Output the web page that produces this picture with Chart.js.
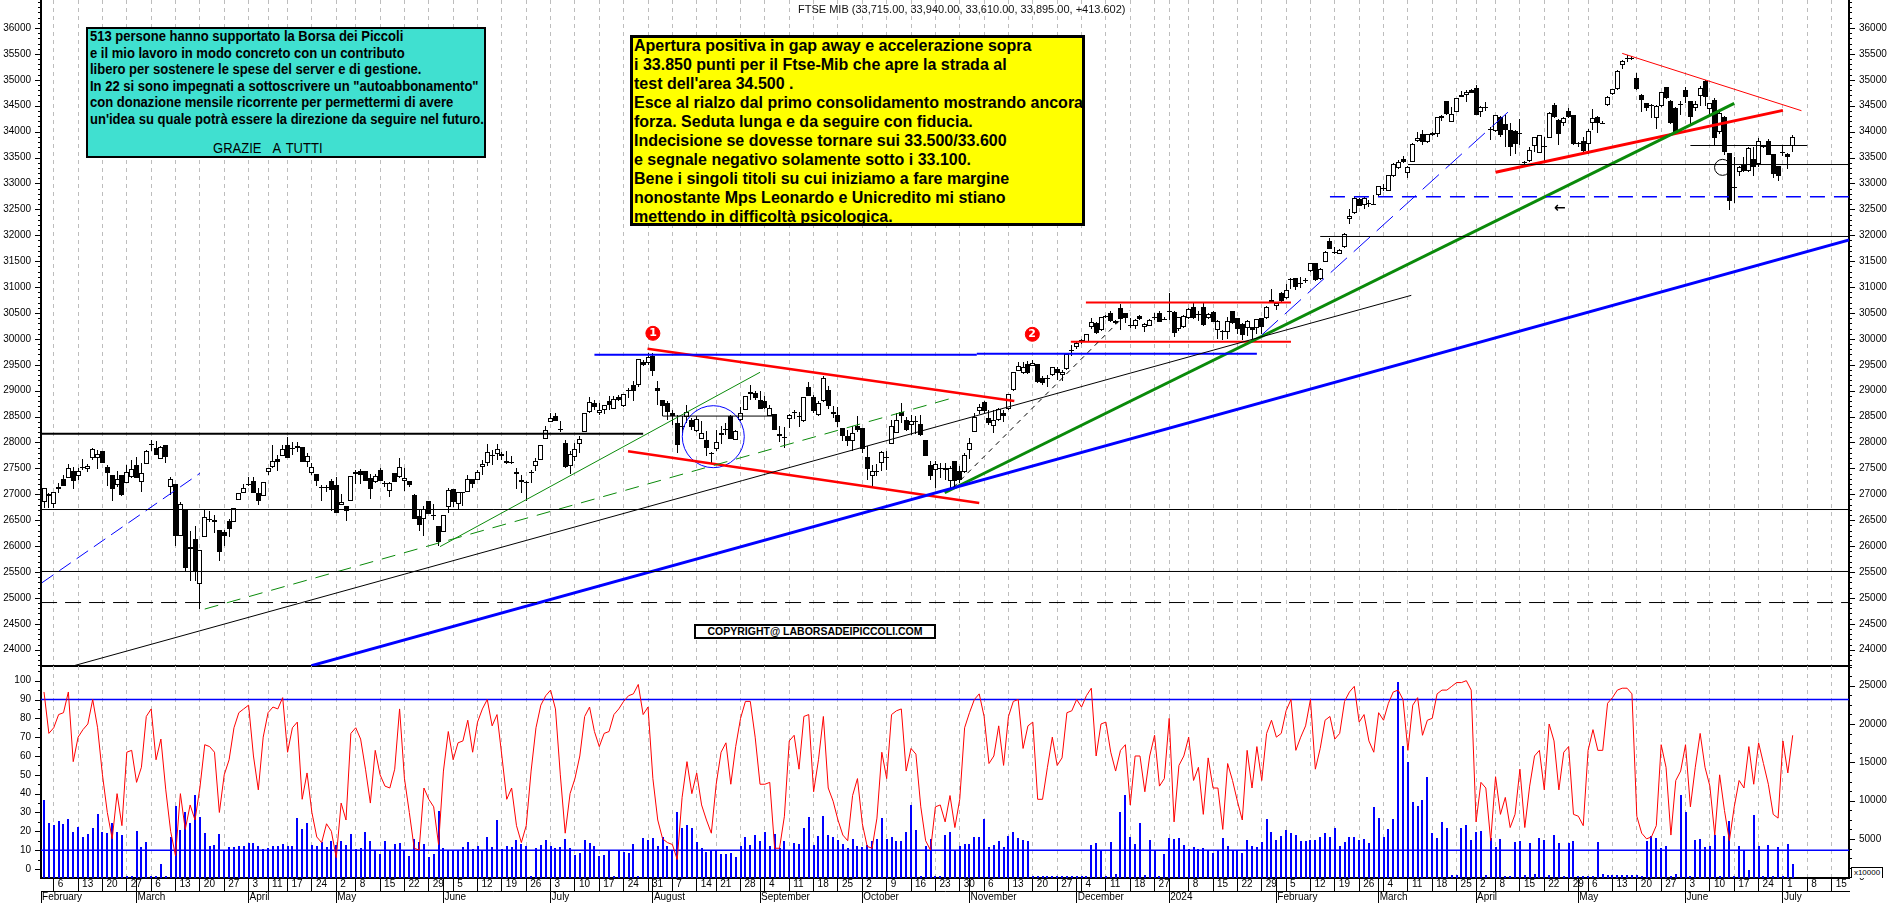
<!DOCTYPE html>
<html>
<head>
<meta charset="utf-8">
<title>FTSE MIB</title>
<script src="https://cdn.jsdelivr.net/npm/chart.js@4/dist/chart.umd.min.js"></script>
<style>
  html, body { margin: 0; padding: 0; background: #fff; overflow: hidden; }
  body { width: 1890px; height: 903px; position: relative; font-family: "Liberation Sans", Arial, sans-serif; color: #000; }
  canvas { position: absolute; left: 0; }
  #priceChart { top: 0; }
  #lowerChart { top: 666px; }
  .note { position: absolute; box-sizing: border-box; border: solid #000; white-space: nowrap; overflow: hidden; }
  #title { position: absolute; left: 798px; top: 2px; font-size: 11px; line-height: 14px; white-space: nowrap; color: #111; }
  #thanks { left: 86px; top: 27px; width: 400px; height: 131px; border-width: 2px; background: #40e0d0; font: bold 14px/16.5px "Liberation Sans", sans-serif; padding: 0 0 0 2px; }
  #thanks div { position: relative; top: -1px; transform: scaleX(.93); transform-origin: left center; }
  #thanks .grazie { position: absolute; left: 125px; top: 111px; word-spacing: 2px; font-weight: normal; }
  #comment { left: 630px; top: 35px; width: 455px; height: 191px; border-width: 3px; background: #ff0; font: bold 16px/19px "Liberation Sans", Arial, sans-serif; padding: 0 0 0 1px; }
  #comment div { position: relative; top: -2px; }
  #copyright { left: 694px; top: 624px; width: 242px; height: 15px; border-width: 2px; background: #fff; font: bold 10.5px/11px "Liberation Sans", Arial, sans-serif; text-align: center; }
  .bullet { position: absolute; width: 14px; text-align: center; color: #fff; font: bold 11px/14px "DejaVu Sans", sans-serif; }
  #arrow { position: absolute; left: 1554px; top: 198px; font: bold 14px/18px "DejaVu Sans", sans-serif; }
  #scaleNote { position: absolute; left: 1851px; top: 867px; width: 32px; height: 11px; box-sizing: border-box; border: 1px solid #000; border-bottom: 0; font-size: 8px; line-height: 10px; text-align: center; background: #fff; }
</style>
</head>
<body>
<canvas id="priceChart" width="1890" height="667"></canvas>
<canvas id="lowerChart" width="1890" height="237"></canvas>

<div id="title">FTSE MIB (33,715.00, 33,940.00, 33,610.00, 33,895.00, +413.602)</div>
<div id="thanks" class="note">
  <div>513 persone hanno supportato la Borsa dei Piccoli</div>
  <div>e il mio lavoro in modo concreto con un contributo</div>
  <div>libero per sostenere le spese del server e di gestione.</div>
  <div>In 22 si sono impegnati a sottoscrivere un "autoabbonamento"</div>
  <div>con donazione mensile ricorrente per permettermi di avere</div>
  <div>un'idea su quale potrà essere la direzione da seguire nel futuro.</div>
  <div class="grazie">GRAZIE &nbsp;A TUTTI</div>
</div>
<div id="comment" class="note">
  <div>Apertura positiva in gap away e accelerazione sopra</div>
  <div>i 33.850 punti per il Ftse-Mib che apre la strada al</div>
  <div>test dell'area 34.500 .</div>
  <div>Esce al rialzo dal primo consolidamento mostrando ancora</div>
  <div>forza. Seduta lunga e da seguire con fiducia.</div>
  <div>Indecisione se dovesse tornare sui 33.500/33.600</div>
  <div>e segnale negativo solamente sotto i 33.100.</div>
  <div>Bene i singoli titoli su cui iniziamo a fare margine</div>
  <div>nonostante Mps Leonardo e Unicredito mi stiano</div>
  <div>mettendo in difficoltà psicologica.</div>
</div>
<div id="copyright" class="note">COPYRIGHT@ LABORSADEIPICCOLI.COM</div>
<div class="bullet" style="left:646px;top:326px">1</div>
<div class="bullet" style="left:1025px;top:327px">2</div>
<div id="arrow">←</div>
<div id="scaleNote">x10000</div>

<script>
// Daily candles: open, high, low, close, one row per session from 2 Feb 2023.
const ohlc = [
  [26857,27115,26730,27115],[27005,27020,26730,26965],[26806,27037,26730,27037],[27140,27210,27030,27110],[27295,27370,27165,27165],
  [27320,27585,27320,27500],[27445,27520,27100,27265],[27345,27500,27275,27445],[27520,27675,27470,27510],[27495,27585,27435,27540],
  [27695,27893,27660,27867],[27695,27855,27495,27780],[27835,27835,27604,27604],[27520,27565,27160,27415],[27370,27370,26880,27110],
  [27185,27455,27145,27290],[27370,27370,26975,26985],[27225,27565,27210,27437],[27340,27660,27310,27480],[27565,27715,27310,27315],
  [27245,27600,27045,27405],[27580,27855,27580,27835],[27965,28050,27840,27960],[27895,28025,27765,27765],[27675,27925,27675,27920],
  [27945,27945,27600,27725],[27145,27330,26985,27290],[27190,27190,26010,26200],[26200,26855,26200,26812],[26710,26710,25505,25580],
  [25975,26290,25330,25940],[26137,26390,25330,25493],[25260,25925,24780,25920],[26180,26695,26180,26555],[26525,26685,26460,26520],
  [26460,26600,26260,26500],[26310,26310,25720,25890],[26280,26310,26000,26200],[26485,26515,26180,26335],[26465,26740,26465,26740],
  [26883,27030,26883,27030],[27030,27200,27020,27115],[27195,27340,27160,27190],[27250,27340,27030,27030],[27018,27115,26793,26878],
  [26975,27230,26975,27230],[27435,27515,27370,27515],[27525,27945,27515,27635],[27690,27760,27455,27630],[27740,27945,27740,27868],
  [27945,28100,27707,27707],[27885,28015,27760,27875],[27890,28015,27825,27940],[27905,27905,27630,27630],[27630,27790,27520,27745],
  [27415,27610,27370,27535],[27385,27385,27160,27255],[27135,27180,26880,27130],[27150,27180,27050,27140],[27250,27290,26685,27083],
  [27180,27340,26630,26645],[26785,27005,26785,26845],[26775,26775,26490,26685],[26877,27353,26877,27353],[27385,27470,27200,27425],
  [27455,27480,27200,27380],[27455,27455,27265,27265],[27310,27385,26910,27100],[27245,27385,27210,27353],[27470,27500,27265,27265],
  [27210,27255,27135,27205],[27065,27230,26954,27210],[27405,27405,27245,27245],[27330,27695,27310,27520],[27265,27500,27070,27320],
  [27250,27265,27150,27175],[26985,27005,26530,26530],[26580,26700,26300,26410],[26515,26775,26195,26710],[26878,26878,26620,26620],
  [26600,26810,26500,26595],[26390,26390,26010,26075],[26280,26600,26280,26595],[26760,27130,26645,27080],[27100,27100,26760,26860],
  [26805,27050,26710,27050],[27020,27050,26775,27050],[27050,27370,27050,27290],[27295,27295,27120,27190],[27270,27475,27270,27424],
  [27533,27668,27380,27578],[27597,27977,27550,27810],[27765,27860,27570,27760],[27770,27977,27668,27874],[27732,27810,27668,27784],
  [27650,27830,27585,27600],[27630,27730,27590,27600],[27392,27507,27110,27424],[27282,27380,27025,27230],[27245,27260,26880,27240],
  [27430,27460,27220,27425],[27552,27700,27443,27650],[27668,27958,27668,27958],[28073,28324,28073,28247],[28395,28570,28395,28466],
  [28517,28570,28408,28408],[28260,28420,28200,28250],[27990,28040,27510,27520],[27540,27830,27400,27785],[27713,27990,27636,27874],
  [27970,28120,27797,28067],[28195,28570,28195,28570],[28588,28878,28570,28775],[28760,28826,28633,28678],[28570,28760,28537,28620],
  [28620,28730,28550,28717],[28807,28903,28633,28723],[28646,28890,28646,28839],[28871,28923,28800,28826],[28698,28942,28685,28929],
  [29005,29050,28858,29000],[29103,29180,28794,28987],[29103,29611,29065,29611],[29560,29585,29480,29500],[29534,29727,29500,29650],
  [29663,29727,29290,29373],[29050,29193,28730,28987],[28826,28826,28505,28710],[28762,28794,28440,28595],[28570,28633,28344,28505],
  [28376,28537,27797,27958],[28310,28505,28185,28305],[28485,28730,28376,28582],[28440,28480,28247,28292],[28221,28505,28200,28453],
  [28073,28408,28073,28183],[28054,28215,27733,27893],[27800,27810,27590,27795],[27874,28247,27830,28003],[28150,28324,27977,28183],
  [28262,28376,28150,28258],[28517,28537,28060,28073],[28041,28240,28041,28215],[28428,28685,28410,28570],[28633,28903,28620,28903],
  [28981,29116,28826,28930],[28955,29000,28826,28858],[28826,28987,28646,28646],[28807,28903,28650,28660],[28517,28730,28505,28665],
  [28550,28550,28234,28234],[28125,28310,28010,28165],[28115,28300,27893,28110],[28447,28550,28280,28530],[28590,28633,28453,28585],
  [28505,28590,28292,28500],[28408,28878,28400,28878],[29070,29160,28890,28903],[28878,28923,28570,28600],[28537,28794,28520,28762],
  [28794,29276,28780,29244],[29006,29084,28646,28710],[28550,28698,28472,28595],[28524,28685,28300,28389],[28280,28280,28022,28120],
  [28120,28247,27926,28022],[28022,28310,27830,28183],[28324,28505,28200,28247],[28273,28280,27797,27874],[27720,27926,27282,27495],
  [27360,27572,27153,27443],[27445,27590,27360,27440],[27604,27840,27443,27822],[27720,27830,27475,27715],[27970,28440,27970,28310],
  [28183,28570,28180,28440],[28590,28762,28376,28505],[28440,28500,28220,28247],[28337,28537,28150,28420],[28410,28505,28170,28405],
  [28357,28537,28120,28150],[28040,28040,27745,27745],[27572,27636,27282,27360],[27462,27636,27120,27585],[27500,27604,27316,27495],
  [27500,27604,27282,27460],[27263,27540,27090,27507],[27642,27650,27153,27263],[27455,27555,27220,27282],[27430,27797,27411,27765],
  [27848,28086,27680,27990],[28208,28562,28208,28498],[28614,28743,28550,28678],[28788,28800,28560,28607],[28466,28627,28337,28382],
  [28324,28627,28190,28434],[28434,28660,28420,28640],[28575,28627,28400,28517],[28640,28936,28627,28936],[29013,29354,29000,29354],
  [29386,29560,29386,29476],[29334,29560,29320,29463],[29515,29580,29320,29334],[29476,29590,29470,29540],[29508,29510,29155,29174],
  [29250,29290,29110,29155],[29240,29300,29075,29235],[29300,29460,29280,29450],[29418,29460,29205,29350],[29300,29400,29190,29367],
  [29412,29720,29400,29708],[29790,29880,29670,29785],[29836,29960,29800,29926],[29970,30000,29900,29965],[29945,30095,29930,30093],
  [30222,30400,30190,30332],[30299,30330,30100,30119],[30171,30430,30160,30415],[30440,30460,30400,30435],[30492,30530,30330,30351],
  [30351,30370,30290,30299],[30589,30670,30180,30376],[30492,30500,30300,30396],[30270,30400,30210,30265],[30248,30380,30190,30364],
  [30447,30470,30360,30376],[30235,30310,30130,30280],[30248,30380,30240,30364],[30430,30490,30360,30425],[30505,30530,30330,30331],
  [30385,30430,30370,30380],[30545,30890,30360,30540],[30518,30530,30040,30119],[30183,30430,30160,30415],[30222,30460,30210,30447],
  [30396,30590,30390,30570],[30608,30700,30380,30396],[30480,30530,30350,30475],[30608,30720,30250,30260],[30396,30500,30390,30480],
  [30518,30530,30330,30331],[30171,30370,30000,30351],[30160,30170,29980,30155],[30138,30430,30000,30351],[30531,30540,30290,30299],
  [30396,30410,30090,30196],[30286,30300,29980,30074],[30203,30360,30060,30351],[30222,30230,30000,30171],[30203,30390,30100,30376],
  [30396,30410,30100,30235],[30396,30640,30390,30621],[30720,30960,30700,30750],[30640,30700,30560,30685],[30885,30900,30720,30737],
  [30782,31050,30770,30943],[31150,31170,30960,31145],[31168,31180,30950,30994],[31085,31200,30990,31080],[31135,31170,31080,31130],
  [31310,31470,31300,31457],[31457,31470,31120,31136],[31150,31360,31140,31342],[31490,31690,31480,31683],[31888,31950,31730,31740],
  [31685,31770,31630,31680],[31644,31730,31630,31708],[31766,32040,31760,32030],[32307,32500,32220,32365],[32422,32730,32410,32712],
  [32693,32710,32560,32570],[32583,32730,32500,32712],[32630,32680,32550,32625],[32605,32770,32590,32600],[32770,32960,32760,32950],
  [32920,32980,32850,32915],[32860,33170,32850,33162],[33143,33390,33130,33375],[33291,33450,33280,33420],[33465,33520,33400,33407],
  [33195,33330,33110,33310],[33420,33790,33410,33760],[33812,34000,33800,33883],[33950,34030,33750,33793],[33793,33950,33780,33945],
  [33980,34000,33920,33935],[33947,34290,33900,34275],[34256,34330,34200,34300],[34590,34600,34320,34333],[34192,34480,34190,34340],
  [34385,34650,34370,34642],[34706,34780,34660,34674],[34700,34800,34580,34764],[34803,34830,34740,34752],[34835,34900,34320,34320],
  [34385,34500,34280,34481],[34480,34580,34400,34475],[34048,34090,33838,34042],[34018,34330,34000,34314],[34275,34300,33900,33934],
  [34147,34330,33700,34030],[34030,34160,33530,33709],[34012,34040,33560,33761],[33965,34250,33740,33960],[33410,33430,33370,33405],
  [33439,33700,33410,33645],[33729,33900,33600,33889],[33593,33940,33580,33928],[33730,33900,33420,33725],[33883,34370,33870,34352],
  [34513,34560,34270,34288],[34224,34240,33750,33947],[34172,34290,34100,34256],[34398,34450,34260,34275],[34314,34330,33740,33761],
  [33780,33800,33700,33775],[33810,33900,33600,33625],[33761,34060,33560,34012],[34172,34440,34040,34256],[34288,34300,33970,34160],
  [34175,34200,34165,34170],[34513,34680,34500,34661],[34720,34830,34700,34816],[34816,35190,34800,35170],[35292,35380,35200,35369],
  [35430,35470,35350,35425],[35420,35450,35390,35395],[35028,35130,34800,34816],[34706,34720,34380,34610],[34546,34560,34400,34462],
  [34505,34540,34270,34500],[34256,34510,34060,34494],[34500,34770,34480,34770],[34855,34860,34630,34642],[34590,34610,34150,34160],
  [34449,34470,33990,34000],[34530,34590,34320,34525],[34803,34860,34560,34674],[34590,34600,34150,34288],[34449,34600,34400,34526],
  [34694,34880,34500,34835],[34977,34990,34500,34661],[34430,34560,34280,34546],[34610,34640,33730,33883],[33999,34370,33950,34352],
  [34288,34300,33550,33613],[33580,33590,32495,32667],[32940,33516,32615,32935],[33227,33330,33140,33310],[33355,33515,33230,33240],
  [33240,33700,33230,33677],[33471,33700,33140,33323],[33375,33880,33320,33825],[33730,33750,33680,33700],[33825,33860,33540,33548],
  [33561,33570,33100,33175],[33336,33345,33050,33143],[33600,33745,33530,33595],[33568,33580,33270,33503],[33715,33940,33610,33895]
];

const oscillator = [
  94,72,75,82,83,94,57,70,74,77, 90,75,50,30,16,40,23,62,63,46, 54,81,85,58,69,42,20,7,40,21, 34,26,43,66,65,62,30,50,58,75,
  83,85,87,60,42,70,83,86,85,91, 62,75,78,37,51,30,17,14,24,20, 6,35,26,72,75,69,53,35,63,50, 44,43,53,85,48,30,11,10,43,37,
  33,13,52,73,58,67,68,79,62,78, 85,90,76,82,60,37,43,23,14,23, 52,75,87,92,95,85,50,19,40,48, 60,81,86,73,65,72,73,82,85,89,
  92,93,98,82,86,48,26,16,14,13, 5,38,57,40,51,34,26,19,45,62, 67,45,65,80,89,89,70,45,45,46, 11,11,28,68,71,53,81,82,41,58,
  81,43,36,26,18,15,39,48,24,12, 11,27,62,48,82,84,85,52,64,61, 33,15,10,33,34,25,39,22,37,75, 83,90,93,81,56,60,76,55,81,89,
  90,64,76,78,37,37,54,70,55,59, 83,84,90,86,92,96,60,77,78,62, 52,63,66,34,60,60,41,60,71,44, 48,80,25,55,60,70,47,54,29,59,
  43,43,21,56,47,36,26,63,43,65, 47,72,79,70,72,84,90,63,70,76, 90,53,64,79,81,69,72,89,94,97, 78,82,68,62,83,79,88,94,95,90,
  63,87,91,71,79,80,93,95,95,97, 99,99,100,95,25,46,43,15,49,29, 38,22,29,53,22,44,60,63,42,77, 68,42,62,65,29,28,23,63,74,63,
  63,88,91,95,96,96,93,28,19,16, 17,23,66,54,18,47,52,66,33,54, 72,54,44,18,50,31,15,33,47,43, 65,45,67,56,45,29,27,68,51,71
];

const volume = [
  10090,7090,6870,7350,6920,7610,5870,6525,5310,5655, 6390,8265,5870,5785,7050,5870,5525,220,170,6050,
  3915,4570,130,130,1700,130,5310,9350,6220,8570, 7050,10745,7830,5785,4090,4220,5655,3440,3915,3915,
  4090,4045,4480,4480,4090,3700,3830,4090,4090,4350, 4090,4045,7740,6260,7090,4220,4090,4650,3915,4785,
  4220,4785,4220,5655,3700,3830,5915,4740,3390,3090, 4700,3390,4350,4480,3480,2830,5000,4650,4350,2650,
  3045,8700,3785,3440,3610,3610,3915,4570,3700,4045, 3390,5310,3915,7525,3700,4045,3915,4870,4350,4045,
  130,3870,4220,4830,4130,3785,3915,4960,3785,2915, 3220,4830,4480,4045,2830,2915,3610,130,3390,3260, 3130,
  4350,220,5090,4870,5090,4130,5310,4130,3440,8570, 6440,6830,6440,4570,3785,3260,3390,3610,3000,3045,
  3175,2650,4045,5310,4220,5525,4740,5960,4090,5655, 3870,4700,3390,4480,4350,6440,7870,4220,5390,8000,
  5525,5260,4870,4350,3785,4960,4090,4000,4220,4785, 4960,7740,5000,5260,4740,4740,5915,9440,6180,130,
  4090,4960,130,130,5525,5915,3610,4130,4350,4350, 5220,5260,7610,3915,4220,4700,3915,5390,5915,5090,
  4870,4740,220,220,220,220,220,220,220,220, 220,220,220,220,4220,4480,3440,220,4610,435,
  8480,10745,5260,4350,7090,300,4870,3390,220,3045, 5090,4960,5090,4220,3700,3915,3700,3785,3440,3220,
  3610,5090,4045,3610,3610,3175,4830,4045,3915,4650, 7570,5870,4915,5350,6180,5740,5525,4740,4740,4870,
  4915,5260,5740,5260,6390,4130,4570,5310,5220,4915, 4960,4480,9180,7700,5260,6310,7570,25490,17100,15090,
  9790,9270,10050,13090,5740,5180,7180,6390,300,300, 6390,6830,4870,5870,6050,350,5180,4000,4960,220,
  220,4650,4740,300,4480,435,5130,4870,300,5525, 4440,130,4520,4700,220,220,220,220,4570,390,
  300,260,260,260,260,260,260,170,4740,5350, 5180,3785,4045,220,435,10745,8570,170,4870,5000,
  3915,4090,5525,220,5350,7310,220,4045,3390,910, 8090,4090,220,4220,220,3960,220,4305,1740
];

// Session index of each weekly tick and its day number.
const weekTicks = [2,7,12,17,22,27,32,37,42,46,50,55,60,64,69,74,79,84,89,94,99,104,109,114,119,124,129,134,138,143,148,153,158,163,168,173,178,183,188,193,198,203,208,213,218,223,228,231,235,240,245,250,255,260,265,270,275,280,285,290,294,298,303,308,313,317,322,327,332,337,342,347,352,357,362,367];
const weekLabels = ["6","13","20","27","6","13","20","27","3","11","17","24","2","8","15","22","29","5","12","19","26","3","10","17","24","31","7","14","21","28","4","11","18","25","2","9","16","23","30","6","13","20","27","4","11","18","27","","8","15","22","29","5","12","19","26","4","11","18","25","2","8","15","22","29","6","13","20","27","3","10","17","24","1","8","15"];
const monthTicks = [-0.6,19,42,60,82,104,125,147,168,190,212,231,253,274,294,315,337,357];
const monthNames = ["February","March","April","May","June","July","August","September","October","November","December","2024","February","March","April","May","June","July"];

// Drawn lines on the price pane, [session, price] pairs.
const supportHeavy = [[-0.6,28170],[123,28170]];
const supportA = [[-0.6,26706],[370.6,26706]];
const supportB = [[-0.6,25510],[370.6,25510]];
const supportDashed = [[-0.6,24911],[370.6,24911]];
const supportC = [[280,33365],[370.6,33365]];
const supportD = [[262,31976],[370.6,31976]];
const supportE = [[338,33732],[362,33732]];
const neckline = [[127,28510],[149.6,28510]];
const blueDashedLevel = [[264,32745],[370.6,32745]];
const blueLevelA = [[113,29694],[191.5,29694]];
const blueLevelB = [[191.5,29712],[249,29712]];
const channelTop = [[123.9,29810],[199.2,28800]];
const channelBottom = [[119.9,27830],[192,26830]];
const rangeTop = [[213.9,30700],[256,30700]];
const rangeBottom = [[210.8,29945],[256,29945]];
const longTrendBlack = [[6.2,23693],[280.7,30840]];
const longTrendBlue = [[54.9,23693],[370.6,31908]];
const trendGreenHeavy = [[184.9,27030],[347,34546]];
const trendGreenThin = [[81.3,25990],[147,29355]];
const trendGreenDashed = [[33,24785],[187,28872]];
const trendBlueDashedA = [[-0.4,25294],[32,27405]];
const trendBlueDashedB = [[250,30075],[300.8,34398]];
const trendBlackDashed = [[186.7,27135],[223,30557]];
const trendRedRising = [[298,33215],[357,34410]];
const trendRedFalling = [[324,35510],[360.8,34404]];
const circleBlue = [137.4,28112];
const circleBlack = [344.6,33310];
const bullets = [[125,30107],[202.9,30088]];
const oscHigh = [[-0.6,90],[370.6,90]];
const oscLow = [[-0.6,10],[370.6,10]];

const X_MIN = -0.616, X_MAX = 370.56;
const GRID = "#bdbdbd";
const FONT = { family: '"Liberation Sans", Arial, sans-serif', size: 10 };

// Snap bars to whole pixels so bodies and wicks stay crisp like the original.
const crispBars = {
  id: "crispBars",
  beforeDatasetsDraw(chart) {
    chart.getSortedVisibleDatasetMetas().forEach(m => {
      if (m.type !== "bar") return;
      m.data.forEach(el => {
        el.width = Math.round(el.width);
        el.x = el.width % 2 ? Math.floor(el.x) + 0.5 : Math.round(el.x);
        el.y = Math.round(el.y);
        el.base = Math.round(el.base);
        if (Math.abs(el.y - el.base) < 1) el.base = el.y + 1;
      });
    });
  }
};

// Long ticks at labelled values, short ones between, on the y axes.
const axisMarks = {
  id: "axisMarks",
  afterDraw(chart) {
    const ctx = chart.ctx;
    ctx.save();
    ctx.fillStyle = "#000";
    Object.values(chart.scales).forEach(s => {
      if (s.axis !== "y") return;
      const left = s.position === "left";
      s.ticks.forEach(t => {
        const y = Math.round(s.getPixelForValue(t.value));
        const len = t.label !== "" ? 6 : 3;
        ctx.fillRect(left ? s.right - len : s.left, y, len, 1);
      });
    });
    ctx.restore();
  }
};

function range(from, to, step) {
  const out = [];
  for (let v = from; v <= to; v += step) out.push(v);
  return out;
}

function valueAxis(position, min, max, ticks, every, lastLabel) {
  return {
    type: "linear", axis: "y", position, min, max,
    // tick padding would otherwise inset the pane top and bottom
    afterFit: s => { s.width = 41; s.paddingTop = 0; s.paddingBottom = 0; },
    afterBuildTicks: s => { s.ticks = ticks.map(value => ({ value })); },
    grid: { display: false, drawTicks: false },
    border: { display: true, color: "#000", width: 2 },
    ticks: { autoSkip: false, padding: 10, color: "#000", font: FONT, callback: v => (v % every === 0 && v <= lastLabel ? String(v) : "") }
  };
}

function seg(points, color, width, dash) {
  return {
    type: "line", data: points.map(p => ({ x: p[0], y: p[1] })),
    borderColor: color, borderWidth: width, borderDash: dash || [],
    pointRadius: 0, tension: 0, order: 1
  };
}

function ring(point, radius, color, fill) {
  return {
    type: "line", data: [{ x: point[0], y: point[1] }], showLine: false,
    pointRadius: radius, pointHoverRadius: radius, pointBorderWidth: 1,
    pointBorderColor: color, pointBackgroundColor: fill, order: 1
  };
}

const PRICE_MAX = 36540.4, PRICE_MIN = 23686;
const priceTicks = range(23700, 36500, 100);

new Chart(document.getElementById("priceChart").getContext("2d"), {
  type: "bar",
  data: {
    datasets: [
      { data: ohlc.map((c, i) => ({ x: i, y: [c[2], c[1]] })), backgroundColor: "#000", grouped: false, barThickness: 1, maxBarThickness: 1, inflateAmount: 0, order: 6 },
      { data: ohlc.map((c, i) => ({ x: i, y: [c[0], c[3]] })), backgroundColor: ohlc.map(c => (c[3] >= c[0] ? "#fff" : "#000")), borderColor: "#000", borderWidth: 1, borderSkipped: false, grouped: false, barThickness: 5, maxBarThickness: 5, inflateAmount: 0, order: 5 },
      seg(supportHeavy, "#000", 2), seg(supportA, "#000", 1), seg(supportB, "#000", 1), seg(supportDashed, "#000", 1, [16, 8]),
      seg(supportC, "#000", 1), seg(supportD, "#000", 1), seg(supportE, "#000", 1), seg(neckline, "#000", 1),
      seg(longTrendBlack, "#000", 1), seg(trendBlackDashed, "#000", 1, [5, 5]),
      seg(blueDashedLevel, "#0000ff", 1.5, [15, 9]), seg(blueLevelA, "#0000ff", 2), seg(blueLevelB, "#0000ff", 2),
      seg(longTrendBlue, "#0000ff", 3), seg(trendBlueDashedA, "#0000ff", 1, [14, 7]), seg(trendBlueDashedB, "#0000ff", 1, [22, 9]),
      seg(trendGreenHeavy, "#0a8a0a", 3), seg(trendGreenThin, "#0a8a0a", 1), seg(trendGreenDashed, "#0a8a0a", 1, [14, 9]),
      seg(channelTop, "#ff0000", 2.5), seg(channelBottom, "#ff0000", 2.5), seg(rangeTop, "#ff0000", 2), seg(rangeBottom, "#ff0000", 2),
      seg(trendRedRising, "#ff0000", 3), seg(trendRedFalling, "#ff0000", 1),
      ring(circleBlue, 31, "#0000ff", "transparent"), ring(circleBlack, 8, "#000", "transparent"),
      ring(bullets[0], 7, "#ff0000", "#ff0000"), ring(bullets[1], 7, "#ff0000", "#ff0000")
    ]
  },
  options: {
    responsive: false, animation: false, events: [],
    layout: { autoPadding: false, padding: { bottom: 1 } },
    plugins: { legend: { display: false }, tooltip: { enabled: false } },
    scales: {
      x: {
        type: "linear", min: X_MIN, max: X_MAX, offset: false,
        afterFit: s => { s.height = 0; },
        afterBuildTicks: s => { s.ticks = weekTicks.map(value => ({ value })); },
        grid: { color: GRID, offset: false, drawTicks: false },
        border: { display: true, color: "#000", width: 2, dash: [4, 4] },
        ticks: { display: false }
      },
      y: valueAxis("left", PRICE_MIN, PRICE_MAX, priceTicks, 500, 36000),
      yRight: valueAxis("right", PRICE_MIN, PRICE_MAX, priceTicks, 500, 36000)
    }
  },
  plugins: [crispBars, axisMarks]
});

const OSC_MIN = -4.8, OSC_MAX = 107.8, VOL_MIN = -88, VOL_MAX = 27570;
const lowerTicks = weekTicks.concat(monthTicks.filter(v => v > 0 && !weekTicks.includes(v)));

new Chart(document.getElementById("lowerChart").getContext("2d"), {
  type: "bar",
  data: {
    datasets: [
      { data: volume.map((v, i) => ({ x: i, y: v })), yAxisID: "yRight", base: VOL_MIN, backgroundColor: "#0000ff", grouped: false, barThickness: 2, maxBarThickness: 2, inflateAmount: 0, order: 5 },
      Object.assign(seg(oscHigh, "#0000ff", 1.5), { yAxisID: "y", order: 3 }),
      Object.assign(seg(oscLow, "#0000ff", 1.5), { yAxisID: "y", order: 3 }),
      { type: "line", data: oscillator.map((v, i) => ({ x: i, y: v })), yAxisID: "y", borderColor: "#ff0000", borderWidth: 1, pointRadius: 0, tension: 0, order: 1 }
    ]
  },
  options: {
    responsive: false, animation: false, events: [],
    layout: { autoPadding: false },
    plugins: { legend: { display: false }, tooltip: { enabled: false } },
    scales: {
      x: {
        type: "linear", position: "bottom", min: X_MIN, max: X_MAX, offset: false,
        afterFit: s => { s.height = 13; },
        afterBuildTicks: s => { s.ticks = lowerTicks.map(value => ({ value })); },
        grid: { color: c => (c.tick && weekTicks.includes(c.tick.value) ? GRID : "transparent"), offset: false, tickColor: "#000", tickLength: 13, tickBorderDash: [] },
        border: { display: true, color: "#000", width: 2, dash: [4, 4] },
        ticks: {
          autoSkip: false, maxRotation: 0, align: "start", labelOffset: 4, padding: -13, color: "#000", font: FONT,
          callback: v => { const k = weekTicks.indexOf(v); return k >= 0 ? weekLabels[k] : ""; }
        }
      },
      xMonth: {
        type: "linear", axis: "x", position: "bottom", min: X_MIN, max: X_MAX, offset: false,
        afterFit: s => { s.height = 12; },
        afterBuildTicks: s => { s.ticks = monthTicks.map(value => ({ value })); },
        grid: { drawOnChartArea: false, offset: false, tickColor: "#000", tickLength: 12 },
        border: { display: true, color: "#000", width: 1 },
        ticks: {
          autoSkip: false, maxRotation: 0, align: "start", labelOffset: 1, padding: -12, color: "#000", font: FONT,
          callback: v => monthNames[monthTicks.indexOf(v)]
        }
      },
      y: valueAxis("left", OSC_MIN, OSC_MAX, range(0, 105, 5), 10, 100),
      yRight: valueAxis("right", VOL_MIN, VOL_MAX, range(0, 27500, 1250), 5000, 25000)
    }
  },
  plugins: [crispBars, axisMarks]
});
</script>
</body>
</html>
